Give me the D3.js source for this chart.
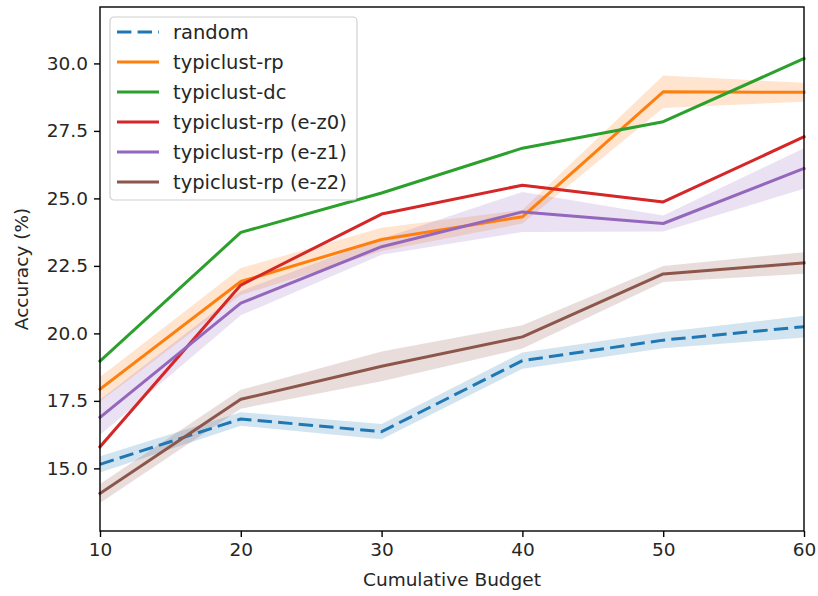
<!DOCTYPE html>
<html>
<head>
<meta charset="utf-8">
<script src="https://cdn.jsdelivr.net/npm/d3@7"></script>
<style>
  html, body { margin: 0; padding: 0; background: #fff; }
  svg text { font-family: "DejaVu Sans", sans-serif; fill: #262626; }
</style>
</head>
<body>
<svg id="chart" width="818" height="596"></svg>
<script>
// Cumulative labelling budget on the x axis
const budgets = [10, 20, 30, 40, 50, 60];

// Mean accuracy (%) per method
const randomMean = [15.15, 16.83, 16.36, 18.99, 19.75, 20.25];
const rpMean     = [17.93, 21.92, 23.48, 24.32, 28.95, 28.93];
const dcMean     = [18.97, 23.74, 25.20, 26.86, 27.84, 30.18];
const ez0Mean    = [15.80, 21.79, 24.42, 25.49, 24.87, 27.28];
const ez1Mean    = [16.89, 21.12, 23.21, 24.50, 24.07, 26.11];
const ez2Mean    = [14.07, 17.56, 18.78, 19.87, 22.20, 22.61];

// Spread (±) around each mean, shown as a shaded band
const randomSpread = [0.30, 0.25, 0.28, 0.30, 0.30, 0.40];
const rpSpread     = [0.45, 0.50, 0.43, 0.25, 0.60, 0.35];
const dcSpread     = [0.04, 0.04, 0.04, 0.04, 0.04, 0.04];
const ez0Spread    = [0.04, 0.04, 0.04, 0.04, 0.04, 0.04];
const ez1Spread    = [0.65, 0.45, 0.30, 0.74, 0.30, 0.75];
const ez2Spread    = [0.35, 0.35, 0.55, 0.43, 0.30, 0.40];

const seriesNames = ["random", "typiclust-rp", "typiclust-dc",
  "typiclust-rp (e-z0)", "typiclust-rp (e-z1)", "typiclust-rp (e-z2)"];
const seriesColors = ["#1f77b4", "#ff7f0e", "#2ca02c", "#d62728", "#9467bd", "#8c564b"];
const seriesDashed = [true, false, false, false, false, false];
const means = [randomMean, rpMean, dcMean, ez0Mean, ez1Mean, ez2Mean];
const spreads = [randomSpread, rpSpread, dcSpread, ez0Spread, ez1Spread, ez2Spread];

const yTicks = [15, 17.5, 20, 22.5, 25, 27.5, 30];

const series = seriesNames.map((name, i) => ({
  name, color: seriesColors[i], dashed: seriesDashed[i],
  points: budgets.map((b, j) => ({ x: b, y: means[i][j], s: spreads[i][j] }))
}));

const svg = d3.select("#chart");
const margin = { left: 100, top: 7, right: 14, bottom: 65 };
const W = 818, H = 596;
const pw = W - margin.left - margin.right;   // 704
const ph = H - margin.top - margin.bottom;   // 524

const x = d3.scaleLinear().domain([10, 60]).range([margin.left, margin.left + pw]);
const y = d3.scaleLinear().domain([12.68, 32.09]).range([margin.top + ph, margin.top]);

const DASH = "14.4,6.2";
const LW = 3;

const plot = svg.append("g");

// Shaded spread bands
const area = d3.area().x(d => x(d.x)).y0(d => y(d.y - d.s)).y1(d => y(d.y + d.s));
plot.selectAll("path.band").data(series).join("path")
  .attr("class", "band")
  .attr("d", d => area(d.points))
  .attr("fill", d => d.color)
  .attr("fill-opacity", 0.2)
  .attr("stroke", "none");

// Mean lines
const line = d3.line().x(d => x(d.x)).y(d => y(d.y));
plot.selectAll("path.mean").data(series).join("path")
  .attr("class", "mean")
  .attr("d", d => line(d.points))
  .attr("fill", "none")
  .attr("stroke", d => d.color)
  .attr("stroke-width", LW)
  .attr("stroke-linejoin", "round")
  .attr("stroke-linecap", d => d.dashed ? "butt" : "square")
  .attr("stroke-dasharray", d => d.dashed ? DASH : null);

// Axes
const xAxis = d3.axisBottom(x).tickValues(budgets).tickFormat(d3.format("d"))
  .tickSize(6).tickPadding(6);
const yAxis = d3.axisLeft(y).tickValues(yTicks).tickFormat(d3.format(".1f"))
  .tickSize(6).tickPadding(6);

const gx = svg.append("g").attr("transform", `translate(0,${margin.top + ph})`).call(xAxis);
const gy = svg.append("g").attr("transform", `translate(${margin.left},0)`).call(yAxis);
[gx, gy].forEach(g => {
  g.select(".domain").remove();
  g.selectAll(".tick line").attr("stroke", "#000").attr("stroke-width", 1.4);
  g.selectAll(".tick text").attr("font-size", 18.5).attr("fill", "#262626")
    .style("font-family", "'DejaVu Sans', sans-serif");
});

// Frame around the plot area
svg.append("rect")
  .attr("x", margin.left).attr("y", margin.top)
  .attr("width", pw).attr("height", ph)
  .attr("fill", "none").attr("stroke", "#000").attr("stroke-width", 1.4);

// Axis titles
svg.append("text")
  .attr("x", margin.left + pw / 2).attr("y", 586)
  .attr("text-anchor", "middle").attr("font-size", 18.5)
  .text("Cumulative Budget");
svg.append("text")
  .attr("transform", `translate(28,${margin.top + ph / 2}) rotate(-90)`)
  .attr("text-anchor", "middle").attr("font-size", 18.5)
  .text("Accuracy (%)");

// Legend
const lg = svg.append("g").attr("transform", "translate(110,17)");
lg.append("rect")
  .attr("width", 247).attr("height", 183).attr("rx", 4)
  .attr("fill", "#fff").attr("fill-opacity", 0.8)
  .attr("stroke", "#d0d0d0").attr("stroke-width", 1.2);
const items = lg.selectAll("g.item").data(series).join("g")
  .attr("class", "item")
  .attr("transform", (d, i) => `translate(0,${15 + i * 30})`);
items.append("line")
  .attr("x1", 7).attr("x2", 49).attr("y1", 0).attr("y2", 0)
  .attr("stroke", d => d.color).attr("stroke-width", LW)
  .attr("stroke-dasharray", d => d.dashed ? DASH : null);
items.append("text")
  .attr("x", 63).attr("y", 0).attr("dy", "0.36em")
  .attr("font-size", 19.5)
  .text(d => d.name);
</script>
</body>
</html>
